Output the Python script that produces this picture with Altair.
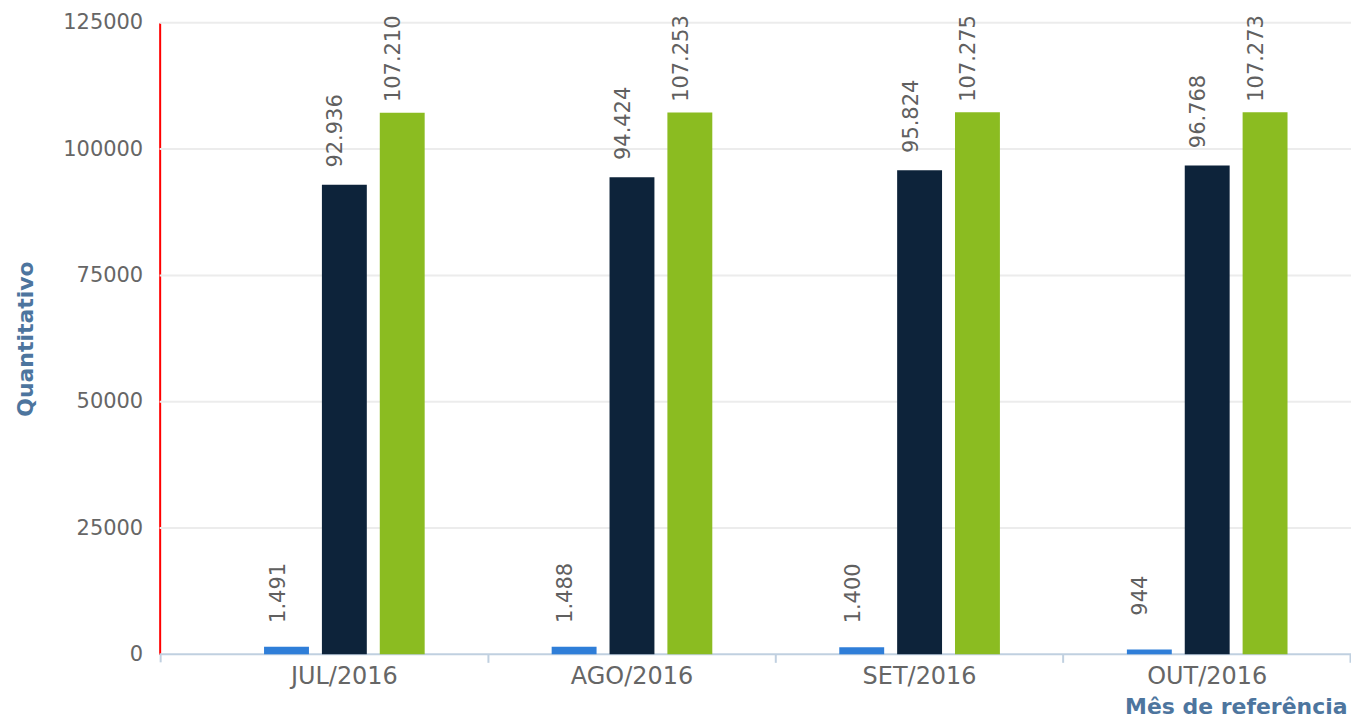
import altair as alt
import pandas as pd

meses = ["JUL/2016", "AGO/2016", "SET/2016", "OUT/2016"]
serie_1 = [1491, 1488, 1400, 944]
serie_2 = [92936, 94424, 95824, 96768]
serie_3 = [107210, 107253, 107275, 107273]
series = ["Série 1", "Série 2", "Série 3"]
cores = ["#2f7ed8", "#0d233a", "#8bbc21"]
y_ticks = [0, 25000, 50000, 75000, 100000, 125000]

rows = []
for name, vals in zip(series, [serie_1, serie_2, serie_3]):
    for m, v in zip(meses, vals):
        rows.append({"mes": m, "serie": name, "valor": v})
df = pd.DataFrame(rows)

W, H = 1194, 633
FONT = "DejaVu Sans"
LABEL_COLOR = "#666666"
TITLE_COLOR = "#4d759e"
AXIS_LINE = "#c0d0e0"

x_enc = alt.X(
    "mes:N",
    sort=meses,
    scale=alt.Scale(range=[41, W], paddingInner=0.4415, paddingOuter=0.2207),
    axis=alt.Axis(
        title="Mês de referência",
        domain=False,
        ticks=True,
        tickSize=8,
        tickColor=AXIS_LINE,
        tickWidth=2,
        bandPosition=1.395,
        labelAngle=0,
        labelFont=FONT,
        labelFontSize=24,
        labelColor=LABEL_COLOR,
        labelPadding=2,
        titleFont=FONT,
        titleFontSize=22,
        titleFontWeight="bold",
        titleColor=TITLE_COLOR,
        titleX=W - 4,
        titleY=59,
        titleAlign="right",
        titleBaseline="alphabetic",
    ),
)

y_scale = alt.Scale(domain=[0, 125000], nice=False)

y_enc = alt.Y(
    "valor:Q",
    scale=y_scale,
    axis=alt.Axis(
        values=y_ticks,
        format="d",
        title="Quantitativo",
        domainColor="#ff0000",
        domainWidth=2,
        ticks=False,
        grid=False,
        labelFont=FONT,
        labelFontSize=21,
        labelColor=LABEL_COLOR,
        labelPadding=17,
        titleFont=FONT,
        titleFontSize=22,
        titleFontWeight="bold",
        titleColor=TITLE_COLOR,
        titleX=-127,
        titleY=H / 2,
        titleAngle=270,
        titleAlign="center",
        titleBaseline="alphabetic",
    ),
)

xoff = alt.XOffset("serie:N", sort=series, scale=alt.Scale(paddingInner=0.224, paddingOuter=0))
color = alt.Color("serie:N", scale=alt.Scale(domain=series, range=cores), legend=None)

base = alt.Chart(df)

grid = alt.Chart(pd.DataFrame({"g": y_ticks[1:]})).mark_rule(
    color="#ececec", strokeWidth=2
).encode(y=alt.Y("g:Q", scale=y_scale), x=alt.value(0), x2=alt.value(W))

bars = base.mark_bar().encode(x=x_enc, xOffset=xoff, y=y_enc, color=color)

labels = base.transform_calculate(
    label="replace(format(datum.valor, ','), ',', '.')"
).mark_text(
    angle=270, align="center", baseline="middle", dx=54, dy=-8,
    font=FONT, fontSize=21, color="#606060"
).encode(x=x_enc, xOffset=xoff, y=y_enc, text="label:N")

deco = alt.Chart(pd.DataFrame({"k": [0]}))
x_line = deco.mark_rule(color=AXIS_LINE, strokeWidth=2).encode(
    x=alt.value(0), x2=alt.value(W), y=alt.value(H)
)
first_tick = deco.mark_rule(color=AXIS_LINE, strokeWidth=2).encode(
    x=alt.value(1), y=alt.value(H), y2=alt.value(H + 8)
)

chart = alt.layer(grid, x_line, first_tick, bars, labels).properties(
    width=W,
    height=H,
    autosize="none",
    padding={"left": 152, "top": 14, "right": 0, "bottom": 65},
).configure_view(stroke=None)

chart.save("out.html", embed_options={"renderer": "svg", "actions": False})
